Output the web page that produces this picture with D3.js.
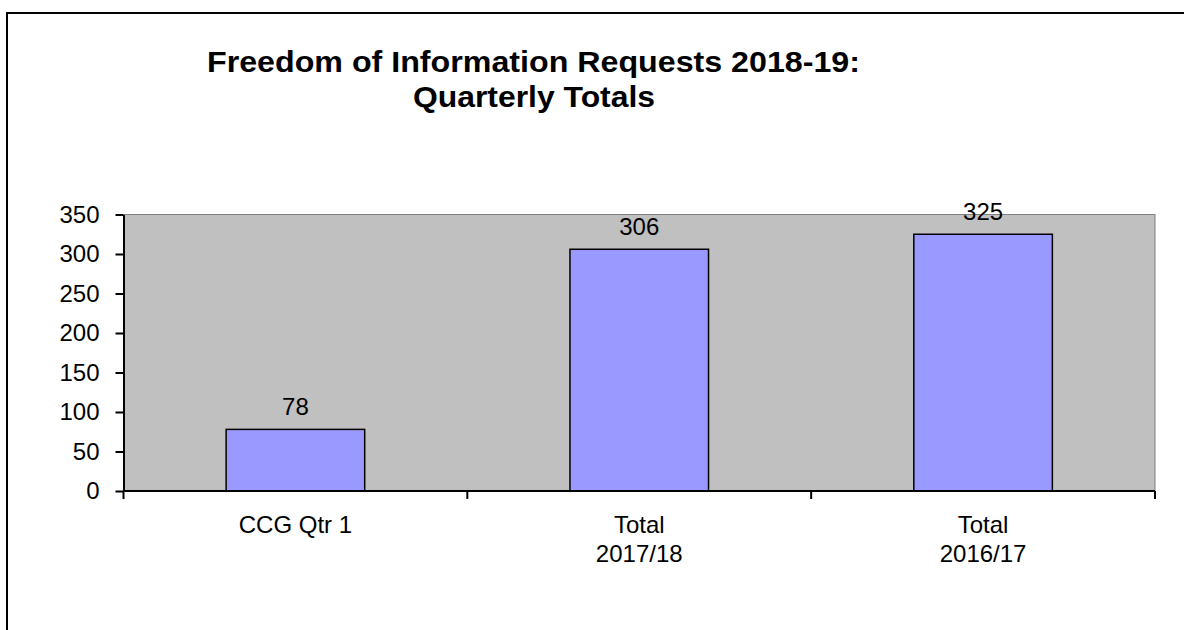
<!DOCTYPE html>
<html><head><meta charset="utf-8">
<script src="https://cdn.jsdelivr.net/npm/d3@7/dist/d3.min.js"></script>
<style>body{margin:0;background:#fff}svg{display:block}text{font-family:"Liberation Sans",Arial,sans-serif}</style>
</head><body><svg id="c" width="1184" height="630"></svg>
<script>
const categories = [["CCG Qtr 1"], ["Total", "2017/18"], ["Total", "2016/17"]];
const values = [78, 306, 325];
const yTicks = [0, 50, 100, 150, 200, 250, 300, 350];
const titleLines = ["Freedom of Information Requests  2018-19:", "Quarterly Totals"];

const svg = d3.select("#c");
// outer frame
svg.append("rect").attr("x", 7).attr("y", 13).attr("width", 1200).attr("height", 700)
  .attr("fill", "none").attr("stroke", "#000").attr("stroke-width", 2);

const L = 123.5, R = 1155, T = 214.5, B = 491;
const x = d3.scaleBand().domain(d3.range(categories.length)).range([L, R]).paddingInner(0).paddingOuter(0);
const y = d3.scaleLinear().domain([0, 350]).range([B, T]);

svg.append("rect").attr("x", L).attr("y", T).attr("width", R - L).attr("height", B - T)
  .attr("fill", "#C0C0C0").attr("stroke", "#808080").attr("stroke-width", 1);

const bw = x.bandwidth() * 0.403;
svg.selectAll("rect.bar").data(values).join("rect").attr("class", "bar")
  .attr("x", (d, i) => x(i) + (x.bandwidth() - bw) / 2)
  .attr("y", d => y(d)).attr("width", bw).attr("height", d => B - y(d))
  .attr("fill", "#9999FF").attr("stroke", "#000").attr("stroke-width", 1.5);

svg.selectAll("text.val").data(values).join("text").attr("class", "val")
  .attr("x", (d, i) => x(i) + x.bandwidth() / 2).attr("y", d => y(d) - 14)
  .attr("text-anchor", "middle").attr("font-size", 24).attr("fill", "#000").text(d => d);

// y axis
const yAxis = d3.axisLeft(y).tickValues(yTicks).tickSize(8).tickSizeOuter(0).tickPadding(16);
const gy = svg.append("g").attr("transform", `translate(${L},0)`).call(yAxis);
gy.select(".domain").attr("stroke", "#000").attr("stroke-width", 2);
gy.selectAll(".tick line").attr("stroke", "#000").attr("stroke-width", 2);
gy.selectAll(".tick text").attr("font-size", 24).attr("fill", "#000")
  .attr("font-family", '"Liberation Sans",Arial,sans-serif');

// x axis baseline and boundary ticks
const gx = svg.append("g");
gx.append("line").attr("x1", L).attr("x2", R).attr("y1", B).attr("y2", B).attr("stroke", "#000").attr("stroke-width", 2);
const bounds = d3.range(categories.length + 1).map(i => i < categories.length ? x(i) : R);
gx.selectAll("line.t").data(bounds).join("line").attr("class", "t")
  .attr("x1", d => d).attr("x2", d => d).attr("y1", B).attr("y2", B + 8)
  .attr("stroke", "#000").attr("stroke-width", 2);

svg.selectAll("text.cat").data(categories).join("text").attr("class", "cat")
  .attr("text-anchor", "middle").attr("font-size", 24).attr("fill", "#000")
  .each(function (d, i) {
    const t = d3.select(this);
    d.forEach((s, k) => t.append("tspan").attr("x", x(i) + x.bandwidth() / 2)
      .attr("y", 533 + k * 29).text(s));
  });

// title
svg.append("text").attr("x", 533.5).attr("y", 72).attr("text-anchor", "middle")
  .attr("font-size", 30).attr("font-weight", "bold").attr("textLength", 653).attr("lengthAdjust", "spacingAndGlyphs")
  .text(titleLines[0]);
svg.append("text").attr("x", 534).attr("y", 107).attr("text-anchor", "middle")
  .attr("font-size", 30).attr("font-weight", "bold").attr("textLength", 242).attr("lengthAdjust", "spacingAndGlyphs")
  .text(titleLines[1]);
</script></body></html>
